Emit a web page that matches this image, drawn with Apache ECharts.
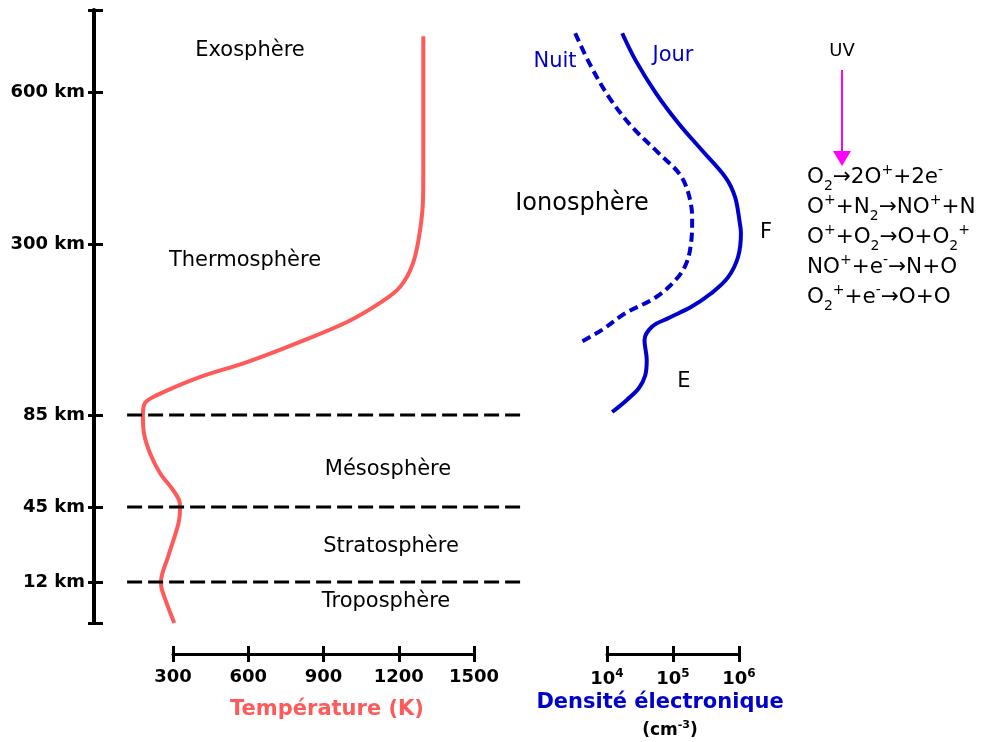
<!DOCTYPE html>
<html><head><meta charset="utf-8">
<script src="https://cdn.jsdelivr.net/npm/echarts@6/dist/echarts.min.js"></script>
<style>html,body{margin:0;padding:0;background:#fff}#c{width:981px;height:742px}</style>
</head><body><div id="c"></div>
<script>
// ---- Non-linear altitude scale (km -> axis units), like a custom scale ----
const altScaleKm   = [0, 12, 45, 85, 300, 600, 762];
const altScaleUnit = [0, 41, 116, 208, 379, 531, 613];

// ---- Tick labels / axis ranges ----
const altTicks = [12, 45, 85, 300, 600];
const tempTicks = [300, 600, 900, 1200, 1500];
const densityTicks = [1e4, 1e5, 1e6];
const tempDataRange = [100, 1700];
const densityDataRange = [1e3, 1e7];
const layerBoundariesKm = [85, 45, 12];
const boundaryTempExtent = [117, 1695];

// ---- Temperature profile ----
const tempAltKm = [0, 9.7, 12, 23, 38, 45, 48, 52.4, 59.8, 68.5, 77.2, 85, 100, 110, 131.5, 151.6, 175.5, 202, 226, 246, 276, 327.6, 393, 485, 710];
const tempK     = [305, 256, 252, 280, 322, 328, 324, 300, 248, 208, 184, 180, 188, 236, 396, 595, 794, 994, 1125, 1205, 1257, 1285, 1297, 1298, 1298];

// ---- Electron density, day ----
const jourAltKm = [716, 663, 598, 539, 486, 432, 393, 341, 322, 284, 258, 238, 221, 207, 196, 179, 154, 135, 119, 104, 88.8];
const jourDens  = [1.7e4, 2.7e4, 5.5e4, 1.2e5, 2.7e5, 6.2e5, 8.7e5, 1.03e6, 1.07e6, 9.7e5, 6.8e5, 3.8e5, 1.9e5, 8.6e4, 4.8e4, 3.7e4, 4.0e4, 3.8e4, 3.05e4, 2.0e4, 1.2e4];

// ---- Electron density, night ----
const nuitAltKm = [716, 657, 590, 531, 480, 432, 373, 347, 308, 276, 255, 233, 213, 192, 175.5];
const nuitDens  = [3.3e3, 5.4e3, 1.07e4, 2.4e4, 6.0e4, 1.35e5, 1.9e5, 1.95e5, 1.9e5, 1.6e5, 1.1e5, 5.5e4, 1.9e4, 8.4e3, 3.8e3];

function altToUnit(km) {
  for (let i = 0; i < altScaleKm.length - 1; i++) {
    const a = altScaleKm[i], b = altScaleKm[i + 1];
    if (km <= b || i === altScaleKm.length - 2) {
      const t = (km - a) / (b - a);
      return altScaleUnit[i] + t * (altScaleUnit[i + 1] - altScaleUnit[i]);
    }
  }
}
const unitMax = altScaleUnit[altScaleUnit.length - 1];
const capTicks = [0].concat(altTicks.map(altToUnit), [unitMax]);

// layout
const GRID_TOP = 10, GRID_H = 613;
const TEMP_LEFT = 173, TEMP_W = 301;
const DENS_LEFT = 607, DENS_W = 132;
const tMin = tempTicks[0], tMax = tempTicks[tempTicks.length - 1];
const tpx = TEMP_W / (tMax - tMin);
const tempDataLeft = TEMP_LEFT + (tempDataRange[0] - tMin) * tpx;
const tempDataW = (tempDataRange[1] - tempDataRange[0]) * tpx;
const dDec = DENS_W / Math.log10(densityTicks[densityTicks.length - 1] / densityTicks[0]);
const densDataLeft = DENS_LEFT + Math.log10(densityDataRange[0] / densityTicks[0]) * dDec;
const densDataW = Math.log10(densityDataRange[1] / densityDataRange[0]) * dDec;

const FONT = '"DejaVu Sans", sans-serif';
const RED = '#ff5a5a';
const BLUE = '#0000cd';

const chart = echarts.init(document.getElementById('c'), null, {renderer: 'canvas'});

function txt(text, x, y, size, color, weight, align) {
  return {
    type: 'text', silent: true,
    style: {
      text: text, x: x, y: y,
      fontSize: size, fontFamily: FONT, fontWeight: weight || 'normal',
      fill: color || '#000',
      align: align || 'center', verticalAlign: 'middle',
      textAlign: align || 'center', textVerticalAlign: 'middle'
    }
  };
}

const reactions = [
  'O{sub|2}→2O{sup|+}+2e{sup|-}',
  'O{sup|+}+N{sub|2}→NO{sup|+}+N',
  'O{sup|+}+O{sub|2}→O+O{sub|2}{sup|+}',
  'NO{sup|+}+e{sup|-}→N+O',
  'O{sub|2}{sup|+}+e{sup|-}→O+O'
];

const tickLine = {color: '#000', width: 3};
const labelStyle = {color: '#000', fontSize: 18, fontWeight: 'bold', fontFamily: FONT};

const option = {
  backgroundColor: '#fff',
  animation: false,
  grid: [
    {left: TEMP_LEFT, width: TEMP_W, top: GRID_TOP, height: GRID_H},
    {left: DENS_LEFT, width: DENS_W, top: GRID_TOP, height: GRID_H},
    {left: tempDataLeft, width: tempDataW, top: GRID_TOP, height: GRID_H},
    {left: densDataLeft, width: densDataW, top: GRID_TOP, height: GRID_H}
  ],
  xAxis: [
    {gridIndex: 0, type: 'value', min: tMin, max: tMax, interval: 300, position: 'bottom', offset: 31,
     axisLine: {show: true, onZero: false, lineStyle: {color: '#000', width: 3}},
     axisTick: {show: true, inside: false, length: 8, lineStyle: tickLine},
     axisLabel: Object.assign({show: true, margin: 14, formatter: v => String(v)}, labelStyle),
     splitLine: {show: false}},
    {gridIndex: 0, type: 'value', min: tMin, max: tMax, interval: 300, position: 'bottom', offset: 31,
     axisLine: {show: false, onZero: false},
     axisTick: {show: true, inside: true, length: 8, lineStyle: tickLine},
     axisLabel: {show: false}, splitLine: {show: false}},
    {gridIndex: 1, type: 'log', logBase: 10, min: densityTicks[0], max: densityTicks[densityTicks.length - 1], position: 'bottom', offset: 31,
     axisLine: {show: true, onZero: false, lineStyle: {color: '#000', width: 3}},
     axisTick: {show: true, inside: false, length: 8, lineStyle: tickLine},
     axisLabel: {show: true, margin: 14,
       formatter: function (v) { return '{b|10}{s|' + Math.round(Math.log10(v)) + '}'; },
       rich: {
         b: {fontSize: 18, fontWeight: 'bold', fontFamily: FONT, color: '#000', lineHeight: 22},
         s: {fontSize: 12, fontWeight: 'bold', fontFamily: FONT, color: '#000', lineHeight: 22, verticalAlign: 'top'}
       }},
     splitLine: {show: false}},
    {gridIndex: 1, type: 'log', logBase: 10, min: densityTicks[0], max: densityTicks[densityTicks.length - 1], position: 'bottom', offset: 31,
     axisLine: {show: false, onZero: false},
     axisTick: {show: true, inside: true, length: 8, lineStyle: tickLine},
     axisLabel: {show: false}, splitLine: {show: false}},
    {gridIndex: 2, type: 'value', min: tempDataRange[0], max: tempDataRange[1], show: false},
    {gridIndex: 3, type: 'log', logBase: 10, min: densityDataRange[0], max: densityDataRange[1], show: false}
  ],
  yAxis: [
    {gridIndex: 0, type: 'value', min: 0, max: unitMax, position: 'left', offset: 79,
     axisLine: {show: true, onZero: false, lineStyle: {color: '#000', width: 4}},
     axisTick: {show: true, inside: false, length: 6, lineStyle: tickLine, customValues: capTicks},
     axisLabel: Object.assign({show: true, margin: 9,
       customValues: altTicks.map(altToUnit),
       formatter: function (v) {
         for (const t of altTicks) { if (Math.abs(altToUnit(t) - v) < 0.5) return t + ' km'; }
         return '';
       }}, labelStyle),
     splitLine: {show: false}},
    {gridIndex: 0, type: 'value', min: 0, max: unitMax, position: 'left', offset: 79,
     axisLine: {show: false, onZero: false},
     axisTick: {show: true, inside: true, length: 9, lineStyle: tickLine, customValues: capTicks},
     axisLabel: {show: false}, splitLine: {show: false}},
    {gridIndex: 1, type: 'value', min: 0, max: unitMax, show: false},
    {gridIndex: 2, type: 'value', min: 0, max: unitMax, show: false},
    {gridIndex: 3, type: 'value', min: 0, max: unitMax, show: false}
  ],
  series: [
    {name: 'Température', type: 'line', xAxisIndex: 4, yAxisIndex: 3, silent: true,
     symbol: 'none', smooth: 0.35,
     lineStyle: {color: RED, width: 4},
     data: tempK.map((t, i) => [t, altToUnit(tempAltKm[i])])}
  ].concat(layerBoundariesKm.map(km => ({
     type: 'line', xAxisIndex: 4, yAxisIndex: 3, silent: true, symbol: 'none',
     lineStyle: {color: '#000', width: 3, type: [15, 6]},
     data: boundaryTempExtent.map(t => [t, altToUnit(km)])
  }))).concat([
    {name: 'Jour', type: 'line', xAxisIndex: 5, yAxisIndex: 4, silent: true,
     symbol: 'none', smooth: 0.35,
     lineStyle: {color: BLUE, width: 4},
     data: jourDens.map((d, i) => [d, altToUnit(jourAltKm[i])])},
    {name: 'Nuit', type: 'line', xAxisIndex: 5, yAxisIndex: 4, silent: true,
     symbol: 'none', smooth: 0.35,
     lineStyle: {color: BLUE, width: 4, type: [9, 5]},
     data: nuitDens.map((d, i) => [d, altToUnit(nuitAltKm[i])])}
  ]),
  graphic: [
    txt('Exosphère', 250, 51, 21),
    txt('Thermosphère', 245, 261, 21),
    txt('Mésosphère', 388, 470, 21),
    txt('Stratosphère', 391, 547, 21),
    txt('Troposphère', 386, 602, 21),
    txt('Ionosphère', 582, 204, 24),
    txt('Nuit', 555, 62, 21, BLUE),
    txt('Jour', 673, 56, 21, BLUE),
    txt('F', 766, 233, 21),
    txt('E', 684, 382, 21),
    txt('UV', 842, 51, 18),
    {type: 'line', silent: true, shape: {x1: 842, y1: 70, x2: 842, y2: 153},
     style: {stroke: '#ff00ff', lineWidth: 2}},
    {type: 'polygon', silent: true, shape: {points: [[833, 151], [851, 151], [842, 166]]},
     style: {fill: '#ff00ff'}},
    {type: 'text', silent: true,
     style: {
       text: reactions.join('\n'), x: 807, y: 162,
       fontSize: 21.5, fontFamily: FONT, fill: '#000', lineHeight: 30,
       align: 'left', verticalAlign: 'top', textAlign: 'left', textVerticalAlign: 'top',
       rich: {
         sub: {fontSize: 14, fontFamily: FONT, fill: '#000', lineHeight: 30, verticalAlign: 'bottom', height: 12},
         sup: {fontSize: 14, fontFamily: FONT, fill: '#000', lineHeight: 30, verticalAlign: 'top', height: 16}
       }
     }},
    txt('Température (K)', 327, 710, 21, RED, 'bold'),
    txt('Densité électronique', 660, 703, 21, BLUE, 'bold'),
    {type: 'text', silent: true,
     style: {
       text: '{a|(cm}{s|-3}{a|)}', x: 670, y: 731,
       fontSize: 17, fontWeight: 'bold', fontFamily: FONT, fill: '#000',
       align: 'center', verticalAlign: 'middle', textAlign: 'center', textVerticalAlign: 'middle',
       rich: {
         a: {fontSize: 17, fontWeight: 'bold', fontFamily: FONT, fill: '#000', lineHeight: 22},
         s: {fontSize: 11, fontWeight: 'bold', fontFamily: FONT, fill: '#000', lineHeight: 22, verticalAlign: 'top'}
       }
     }}
  ]
};
chart.setOption(option);
</script>
</body></html>
